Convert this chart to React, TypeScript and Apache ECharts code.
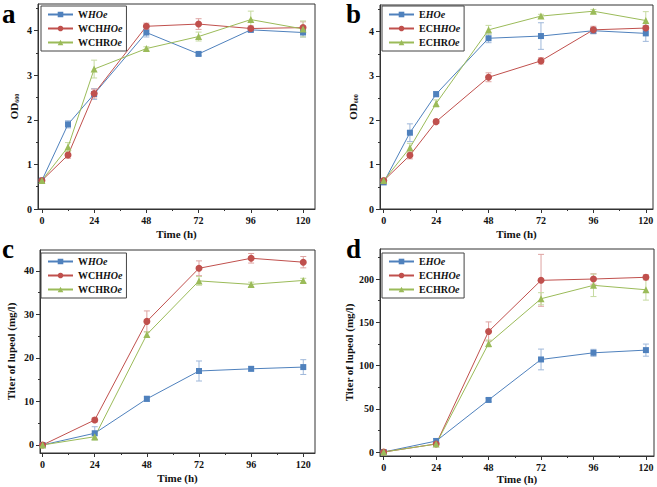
import React, { useEffect, useRef } from "react";
import * as echarts from "echarts";

const FONT = '"Liberation Serif", "Times New Roman", serif';

// time points
const timeOD = [0, 12, 24, 48, 72, 96, 120];
const timeTiter = [0, 24, 48, 72, 96, 120];
const timeTicks = [0, 24, 48, 72, 96, 120];
const timeMinor = [12, 36, 60, 84, 108];

const namesW = ["WHOe", "WCHHOe", "WCHROe"];
const namesE = ["EHOe", "ECHHOe", "ECHROe"];

// panel a: OD600, W strains
const aWHOe = [0.64, 1.9, 2.58, 3.96, 3.48, 4.02, 3.96];
const aWHOeErr = [0.03, 0.08, 0.12, 0.1, 0.04, 0.05, 0.1];
const aWCHHOe = [0.64, 1.21, 2.59, 4.1, 4.15, 4.05, 4.07];
const aWCHHOeErr = [0.03, 0.07, 0.1, 0.07, 0.12, 0.06, 0.13];
const aWCHROe = [0.64, 1.39, 3.14, 3.6, 3.87, 4.25, 4.04];
const aWCHROeErr = [0.03, 0.1, 0.2, 0.04, 0.1, 0.19, 0.18];

// panel b: OD600, E strains
const bEHOe = [0.6, 1.72, 2.59, 3.85, 3.9, 4.02, 3.96];
const bEHOeErr = [0.03, 0.2, 0.06, 0.1, 0.3, 0.07, 0.18];
const bECHHOe = [0.64, 1.21, 1.97, 2.97, 3.34, 4.04, 4.08];
const bECHHOeErr = [0.03, 0.08, 0.04, 0.1, 0.07, 0.08, 0.05];
const bECHROe = [0.64, 1.38, 2.38, 4.04, 4.35, 4.46, 4.25];
const bECHROeErr = [0.03, 0.1, 0.08, 0.1, 0.04, 0.04, 0.2];

// panel c: titer, W strains
const cWHOe = [0, 2.7, 10.6, 17.0, 17.5, 17.9];
const cWHOeErr = [0.3, 1.5, 0.6, 2.3, 0.5, 1.7];
const cWCHHOe = [0, 5.75, 28.4, 40.6, 42.9, 42.0];
const cWCHHOeErr = [0.3, 0.5, 2.4, 1.7, 1.1, 1.3];
const cWCHROe = [0, 1.9, 25.4, 37.7, 36.9, 37.8];
const cWCHROeErr = [0.3, 0.8, 0.6, 1.0, 0.5, 0.5];

// panel d: titer, E strains
const dEHOe = [0, 12.7, 60.2, 107, 114.7, 117.8];
const dEHOeErr = [1, 3, 2, 12, 4, 7];
const dECHHOe = [0, 9.3, 139.4, 198.5, 200, 202];
const dECHHOeErr = [1, 1, 11, 30, 6, 3];
const dECHROe = [0, 9.3, 125.5, 177.2, 192.7, 187.6];
const dECHROeErr = [1, 1, 4, 7, 13, 12];

// tick labels
const odTicks = [0, 1, 2, 3, 4];
const odMinor = [0.5, 1.5, 2.5, 3.5, 4.5];
const cTicks = [0, 10, 20, 30, 40];
const cMinor = [5, 15, 25, 35];
const dTicks = [0, 50, 100, 150, 200];
const dMinor = [25, 75, 125, 175, 225];

const COLORS = ["#4F81BD", "#C0504D", "#9BBB59"];
const ERR_COLORS = ["#9FB8DA", "#DEA3A1", "#C6DAA0"];
const SYMBOLS = ["rect", "circle", "triangle"];
const SYMBOL_SIZES = [6, 7, 7];

const panels = [
  {
    letter: "a", lx: 2, ly: 8,
    grid: { left: 38, top: 4, width: 277, height: 205 },
    xMin: -1.8, xMax: 125.5, yMin: 0, yMax: 4.6,
    yTicks: odTicks, yMinor: odMinor, od: true, yName: "", yNameGap: 18, xNameGap: 19,
    time: timeOD, names: namesW,
    vals: [aWHOe, aWCHHOe, aWCHROe], errs: [aWHOeErr, aWCHHOeErr, aWCHROeErr],
    legend: { left: 41, top: 6 },
  },
  {
    letter: "b", lx: 346, ly: 8,
    grid: { left: 380, top: 5, width: 273, height: 204 },
    xMin: -1.7, xMax: 123.3, yMin: 0, yMax: 4.6,
    yTicks: odTicks, yMinor: odMinor, od: true, yName: "", yNameGap: 21, xNameGap: 19,
    time: timeOD, names: namesE,
    vals: [bEHOe, bECHHOe, bECHROe], errs: [bEHOeErr, bECHHOeErr, bECHROeErr],
    legend: { left: 382, top: 6 },
  },
  {
    letter: "c", lx: 2, ly: 243,
    grid: { left: 40, top: 250, width: 275, height: 203 },
    xMin: -1.2, xMax: 125.4, yMin: -1.84, yMax: 44.8,
    yTicks: cTicks, yMinor: cMinor, od: false, yName: "Titer of lupeol (mg/l)", yNameGap: 24, xNameGap: 19,
    time: timeTiter, names: namesW,
    vals: [cWHOe, cWCHHOe, cWCHROe], errs: [cWHOeErr, cWCHHOeErr, cWCHROeErr],
    legend: { left: 41, top: 253 },
  },
  {
    letter: "d", lx: 346, ly: 243,
    grid: { left: 380, top: 249, width: 274, height: 207 },
    xMin: -1.7, xMax: 123.7, yMin: -4.6, yMax: 234.7,
    yTicks: dTicks, yMinor: dMinor, od: false, yName: "Titer of lupeol (mg/l)", yNameGap: 26, xNameGap: 17,
    time: timeTiter, names: namesE,
    vals: [dEHOe, dECHHOe, dECHROe], errs: [dEHOeErr, dECHHOeErr, dECHROeErr],
    legend: { left: 382, top: 253 },
  },
];

function legendLabel(name: string): string {
  if (name.endsWith("ROe")) return `{u|${name.slice(0, name.length - 2)}}{i|Oe}`;
  return `{u|${name.slice(0, name.length - 3)}}{i|HOe}`;
}

function buildOption() {
  const grid: any[] = [];
  const xAxis: any[] = [];
  const yAxis: any[] = [];
  const series: any[] = [];
  const legend: any[] = [];
  const graphic: any[] = [];
  const axisLabelStyle = { fontFamily: FONT, fontWeight: "bold", fontSize: 10, color: "#111" };
  const lineStyle = { color: "#333", width: 1 };

  panels.forEach((p, i) => {
    grid.push({ ...p.grid, show: true, borderColor: "#333", borderWidth: 1, containLabel: false });
    xAxis.push({
      type: "value", gridIndex: i, min: p.xMin, max: p.xMax, position: "bottom",
      axisLine: { show: true, onZero: false, lineStyle },
      axisTick: { show: true, inside: false, length: 4, lineStyle, customValues: timeTicks },
      axisLabel: { ...axisLabelStyle, margin: 6, customValues: timeTicks },
      splitLine: { show: false },
      name: "Time (h)", nameLocation: "middle", nameGap: p.xNameGap,
      nameTextStyle: { fontFamily: FONT, fontWeight: "bold", fontSize: 11, color: "#111" },
    });
    xAxis.push({
      type: "value", gridIndex: i, min: p.xMin, max: p.xMax, position: "bottom",
      axisLine: { show: false, onZero: false },
      axisTick: { show: true, length: 2, lineStyle, customValues: timeMinor },
      axisLabel: { show: false },
      splitLine: { show: false },
    });
    const yName = p.od ? "{n|OD}{s|600}" : p.yName;
    yAxis.push({
      type: "value", gridIndex: i, min: p.yMin, max: p.yMax, position: "left",
      axisLine: { show: true, onZero: false, lineStyle },
      axisTick: { show: true, inside: false, length: 4, lineStyle, customValues: p.yTicks },
      axisLabel: { ...axisLabelStyle, margin: 6, customValues: p.yTicks },
      splitLine: { show: false },
      name: yName, nameLocation: "middle", nameGap: p.yNameGap, nameRotate: 90,
      nameTextStyle: {
        fontFamily: FONT, fontWeight: "bold", fontSize: 11, color: "#111",
        rich: {
          n: { fontFamily: FONT, fontWeight: "bold", fontSize: 11, color: "#111" },
          s: { fontFamily: FONT, fontWeight: "bold", fontSize: 6, color: "#111", verticalAlign: "bottom", padding: [6, 0, 0, 0] },
        },
      },
    });
    yAxis.push({
      type: "value", gridIndex: i, min: p.yMin, max: p.yMax, position: "left",
      axisLine: { show: false, onZero: false },
      axisTick: { show: true, length: 2, lineStyle, customValues: p.yMinor },
      axisLabel: { show: false },
      splitLine: { show: false },
    });

    p.names.forEach((name, k) => {
      const errColor = ERR_COLORS[k];
      series.push({
        type: "custom",
        name: name + "-err",
        xAxisIndex: 2 * i, yAxisIndex: 2 * i,
        z: 1,
        data: p.time.map((t, j) => [t, p.vals[k][j], p.errs[k][j]]),
        encode: { x: 0, y: 1 },
        renderItem: (params: any, api: any) => {
          const x = api.value(0), y = api.value(1), e = api.value(2);
          const top = api.coord([x, y + e]);
          const bot = api.coord([x, y - e]);
          const w = 3;
          const st = { stroke: errColor, lineWidth: 1 };
          return {
            type: "group",
            children: [
              { type: "line", shape: { x1: top[0], y1: top[1], x2: bot[0], y2: bot[1] }, style: st },
              { type: "line", shape: { x1: top[0] - w, y1: top[1], x2: top[0] + w, y2: top[1] }, style: st },
              { type: "line", shape: { x1: bot[0] - w, y1: bot[1], x2: bot[0] + w, y2: bot[1] }, style: st },
            ],
          };
        },
      });
    });
    p.names.forEach((name, k) => {
      series.push({
        type: "line",
        name,
        xAxisIndex: 2 * i, yAxisIndex: 2 * i,
        z: 3,
        data: p.time.map((t, j) => [t, p.vals[k][j]]),
        symbol: SYMBOLS[k], symbolSize: SYMBOL_SIZES[k],
        showAllSymbol: true,
        itemStyle: { color: COLORS[k] },
        lineStyle: { color: COLORS[k], width: 1 },
      });
    });

    legend.push({
      show: true,
      orient: "vertical",
      left: p.legend.left, top: p.legend.top,
      data: p.names,
      itemWidth: 25, itemHeight: 7, itemGap: 1,
      padding: [2, 4, 2, 6],
      borderColor: "#444", borderWidth: 1,
      backgroundColor: "#fff",
      selectedMode: false,
      formatter: (name: string) => legendLabel(name),
      textStyle: {
        fontFamily: FONT, fontSize: 10, fontWeight: "bold", color: "#111", lineHeight: 13,
        rich: {
          u: { fontFamily: FONT, fontSize: 10, fontWeight: "bold", fontStyle: "normal", color: "#111", lineHeight: 13 },
          i: { fontFamily: FONT, fontSize: 10, fontWeight: "bold", fontStyle: "italic", color: "#111", lineHeight: 13 },
        },
      },
    });

    graphic.push({
      type: "text", left: p.lx, top: p.ly - 8,
      style: { text: p.letter, font: `bold 27px ${FONT}`, fill: "#000" },
    });
  });

  return { animation: false, backgroundColor: "#fff", grid, xAxis, yAxis, series, legend, graphic };
}

export default function App() {
  const ref = useRef<HTMLDivElement>(null);
  useEffect(() => {
    if (!ref.current) return;
    const chart = echarts.init(ref.current, undefined, { renderer: "svg" });
    chart.setOption(buildOption() as any);
    return () => chart.dispose();
  }, []);
  return <div ref={ref} style={{ width: 657, height: 487, position: "absolute", left: 0, top: 0 }} />;
}
